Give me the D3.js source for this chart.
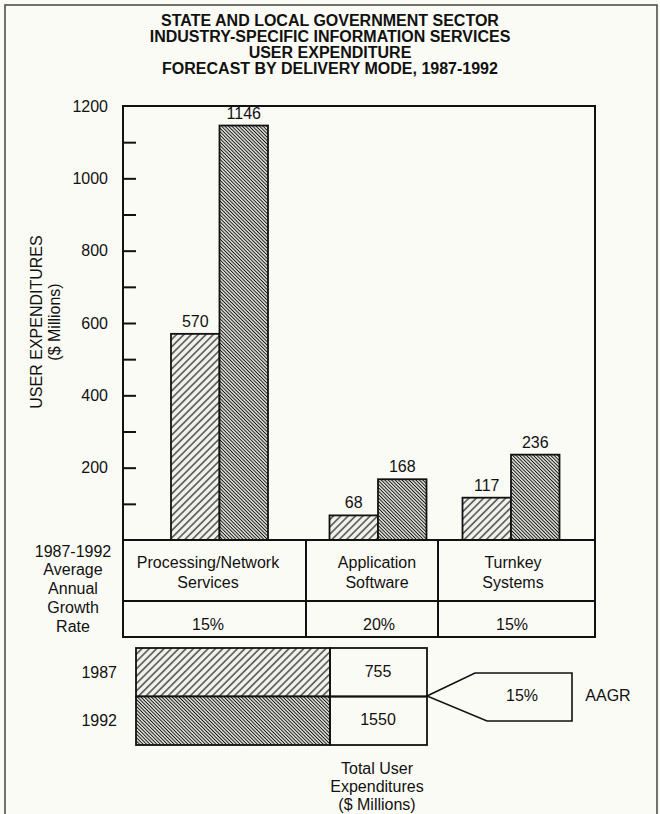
<!DOCTYPE html>
<html>
<head>
<meta charset="utf-8">
<script src="https://cdn.jsdelivr.net/npm/d3@7/dist/d3.min.js"></script>
<style>
  html, body { margin: 0; padding: 0; background: #fbfbf5; }
  svg { display: block; }
  text { font-family: "Liberation Sans", Arial, Helvetica, sans-serif; fill: #111; }
</style>
</head>
<body>
<svg id="chart" width="660" height="814"></svg>
<script>
// ---------------- DATA ----------------
const titleLines = [
  "STATE AND LOCAL GOVERNMENT SECTOR",
  "INDUSTRY-SPECIFIC INFORMATION SERVICES",
  "USER EXPENDITURE",
  "FORECAST BY DELIVERY MODE, 1987-1992"
];
const categories = ["Processing/Network Services", "Application Software", "Turnkey Systems"];
const categoryLines = [["Processing/Network", "Services"], ["Application", "Software"], ["Turnkey", "Systems"]];
const years = ["1987", "1992"];
const values1987 = [570, 68, 117];
const values1992 = [1146, 168, 236];
const growthRates = ["15%", "20%", "15%"];
const growthRowLabel = ["1987-1992", "Average", "Annual", "Growth", "Rate"];
const totals = [755, 1550];
const totalAAGR = "15%";
const yTickLabels = [200, 400, 600, 800, 1000, 1200];
const yMinorTicks = [100, 300, 500, 700, 900, 1100];
const yAxisTitle = ["USER EXPENDITURES", "($ Millions)"];
const totalCaption = ["Total User", "Expenditures", "($ Millions)"];

// ---------------- LAYOUT ----------------
const svg = d3.select("#chart");
const plot = { left: 123, right: 595, top: 106, bottom: 540 };
const table = { top: 540, mid: 601, bottom: 637 };
const colBounds = [123, 306, 438, 595];
const FS = 16;

// patterns
const defs = svg.append("defs");
function hatch(id, spacing, sw, angle, bg) {
  const p = defs.append("pattern").attr("id", id)
    .attr("patternUnits", "userSpaceOnUse")
    .attr("width", spacing).attr("height", spacing)
    .attr("patternTransform", `rotate(${angle})`);
  p.append("rect").attr("width", spacing).attr("height", spacing).attr("fill", bg);
  p.append("line").attr("x1", spacing / 2).attr("x2", spacing / 2)
    .attr("y1", -1).attr("y2", spacing + 1)
    .attr("stroke", "#111").attr("stroke-width", sw);
}
hatch("h1987", 5.2, 1.1, 45, "#f1f1ec");
hatch("h1992", 2.45, 0.95, -45, "#e4e4de");
const fillFor = { "1987": "url(#h1987)", "1992": "url(#h1992)" };

// outer frame
svg.append("rect").attr("x", 5).attr("y", 5).attr("width", 652).attr("height", 840)
  .attr("fill", "none").attr("stroke", "#444").attr("stroke-width", 1.5);

// title
svg.append("g").selectAll("text").data(titleLines).join("text")
  .attr("x", 330).attr("y", (d, i) => 26 + i * 16)
  .attr("text-anchor", "middle").attr("font-weight", "bold").attr("font-size", FS)
  .text(d => d);

// scales
const y = d3.scaleLinear().domain([0, 1200]).range([plot.bottom, plot.top]);
const xGroup = d3.scaleOrdinal().domain(categories).range([219.5, 378, 511]);
const xInner = d3.scaleBand().domain(years).range([-48.5, 48.5]);

// bars
const barData = [];
categories.forEach((c, i) => {
  barData.push({ cat: c, year: "1987", v: values1987[i] });
  barData.push({ cat: c, year: "1992", v: values1992[i] });
});
const gBars = svg.append("g");
gBars.selectAll("rect").data(barData).join("rect")
  .attr("x", d => xGroup(d.cat) + xInner(d.year))
  .attr("width", xInner.bandwidth())
  .attr("y", d => y(d.v))
  .attr("height", d => y(0) - y(d.v))
  .attr("fill", d => fillFor[d.year])
  .attr("stroke", "#111").attr("stroke-width", 1.8);
gBars.selectAll("text").data(barData).join("text")
  .attr("x", d => xGroup(d.cat) + xInner(d.year) + xInner.bandwidth() / 2)
  .attr("y", d => y(d.v) - 7)
  .attr("text-anchor", "middle").attr("font-size", FS)
  .text(d => d.v);

// plot frame
svg.append("rect").attr("x", plot.left).attr("y", plot.top)
  .attr("width", plot.right - plot.left).attr("height", plot.bottom - plot.top)
  .attr("fill", "none").attr("stroke", "#111").attr("stroke-width", 2);

// y axis ticks (inside) + labels
const axis = d3.axisRight(y).tickValues(yTickLabels.filter(v => v < 1200).concat(yMinorTicks))
  .tickSize(13).tickFormat("");
const gAx = svg.append("g").attr("transform", `translate(${plot.left},0)`).call(axis);
gAx.select(".domain").remove();
gAx.selectAll("line").attr("stroke", "#111").attr("stroke-width", 2);
svg.append("g").selectAll("text").data(yTickLabels).join("text")
  .attr("x", 108).attr("y", d => y(d)).attr("dy", "0.35em")
  .attr("text-anchor", "end").attr("font-size", FS)
  .text(d => d);

// y axis title
svg.append("g").selectAll("text").data(yAxisTitle).join("text")
  .attr("transform", (d, i) => `translate(${i === 0 ? 36 : 54},322) rotate(-90)`)
  .attr("dy", "0.35em").attr("text-anchor", "middle").attr("font-size", FS)
  .text(d => d);

// table
const gT = svg.append("g");
gT.append("rect").attr("x", colBounds[0]).attr("y", table.top)
  .attr("width", colBounds[3] - colBounds[0]).attr("height", table.bottom - table.top)
  .attr("fill", "none").attr("stroke", "#111").attr("stroke-width", 2);
gT.append("line").attr("x1", colBounds[0]).attr("x2", colBounds[3])
  .attr("y1", table.mid).attr("y2", table.mid).attr("stroke", "#111").attr("stroke-width", 2);
gT.selectAll("line.col").data(colBounds.slice(1, 3)).join("line").attr("class", "col")
  .attr("x1", d => d).attr("x2", d => d).attr("y1", table.top).attr("y2", table.bottom)
  .attr("stroke", "#111").attr("stroke-width", 2);
const labelX = d3.scaleOrdinal().domain(categories).range([208, 377, 513]);
const pctX = d3.scaleOrdinal().domain(categories).range([208, 379, 512]);
categories.forEach((c, i) => {
  gT.selectAll(null).data(categoryLines[i]).join("text")
    .attr("x", labelX(c)).attr("y", (d, j) => 562 + j * 20).attr("dy", "0.35em")
    .attr("text-anchor", "middle").attr("font-size", FS).text(d => d);
  gT.append("text").attr("x", pctX(c)).attr("y", 624).attr("dy", "0.35em")
    .attr("text-anchor", "middle").attr("font-size", FS).text(growthRates[i]);
});
gT.selectAll("text.rl").data(growthRowLabel).join("text").attr("class", "rl")
  .attr("x", 73).attr("y", (d, i) => 551 + i * 18.8).attr("dy", "0.35em")
  .attr("text-anchor", "middle").attr("font-size", FS).text(d => d);

// totals box
const yTot = d3.scaleBand().domain(years).range([648, 745]);
const gTot = svg.append("g");
gTot.selectAll("rect.h").data(years).join("rect").attr("class", "h")
  .attr("x", 136).attr("width", 330 - 136)
  .attr("y", d => yTot(d)).attr("height", yTot.bandwidth())
  .attr("fill", d => fillFor[d]).attr("stroke", "#111").attr("stroke-width", 1.8);
gTot.selectAll("rect.v").data(years).join("rect").attr("class", "v")
  .attr("x", 330).attr("width", 427 - 330)
  .attr("y", d => yTot(d)).attr("height", yTot.bandwidth())
  .attr("fill", "none").attr("stroke", "#111").attr("stroke-width", 1.8);
gTot.selectAll("text.yr").data(years).join("text").attr("class", "yr")
  .attr("x", 117).attr("y", d => yTot(d) + yTot.bandwidth() / 2).attr("dy", "0.35em")
  .attr("text-anchor", "end").attr("font-size", FS).text(d => d);
gTot.selectAll("text.tv").data(totals).join("text").attr("class", "tv")
  .attr("x", 378).attr("y", (d, i) => yTot(years[i]) + yTot.bandwidth() / 2 - 1).attr("dy", "0.35em")
  .attr("text-anchor", "middle").attr("font-size", FS).text(d => d);

// AAGR arrow
gTot.append("path")
  .attr("d", "M427,696 L475,673 L572,673 L572,721 L487,721 Z")
  .attr("fill", "none").attr("stroke", "#111").attr("stroke-width", 1.6);
gTot.append("text").attr("x", 522).attr("y", 695).attr("dy", "0.35em")
  .attr("text-anchor", "middle").attr("font-size", FS).text(totalAAGR);
gTot.append("text").attr("x", 608).attr("y", 695).attr("dy", "0.35em")
  .attr("text-anchor", "middle").attr("font-size", FS).text("AAGR");
gTot.selectAll("text.cap").data(totalCaption).join("text").attr("class", "cap")
  .attr("x", 377).attr("y", (d, i) => 768 + i * 18).attr("dy", "0.35em")
  .attr("text-anchor", "middle").attr("font-size", FS).text(d => d);
</script>
</body>
</html>
